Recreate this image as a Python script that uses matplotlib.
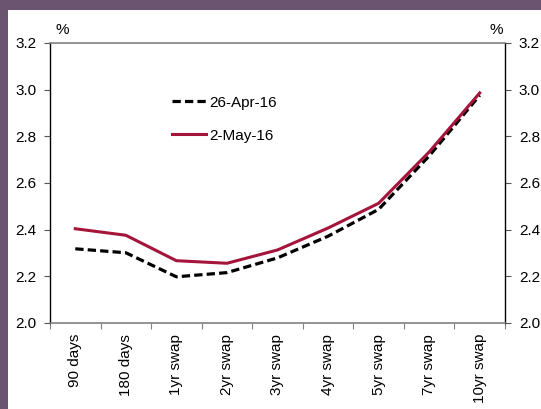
import matplotlib
matplotlib.use("Agg")
import matplotlib.pyplot as plt
from matplotlib.patches import Rectangle
import numpy as np

categories = ["90 days", "180 days", "1yr swap", "2yr swap", "3yr swap",
              "4yr swap", "5yr swap", "7yr swap", "10yr swap"]
apr26 = [2.318, 2.301, 2.198, 2.216, 2.279, 2.372, 2.487, 2.716, 2.976]
may2 = [2.404, 2.376, 2.267, 2.256, 2.313, 2.407, 2.513, 2.733, 2.986]
yticks = [2.0, 2.2, 2.4, 2.6, 2.8, 3.0, 3.2]

plt.rcParams['font.family'] = ['Liberation Sans', 'DejaVu Sans']
FS = 11

fig = plt.figure(figsize=(5.41, 4.09), dpi=100)
fig.patch.set_facecolor('white')
border = '#6B5470'
fig.patches.append(Rectangle((0, 0), 8/541, 1, transform=fig.transFigure,
                             facecolor=border, edgecolor='none', zorder=-5))
fig.patches.append(Rectangle((0, 1 - 10/409), 1, 10/409, transform=fig.transFigure,
                             facecolor=border, edgecolor='none', zorder=-5))

ax = fig.add_axes([50/541, 86/409, 455/541, 280/409])
ax.set_zorder(2)
ax.set_facecolor('white')
x = np.arange(len(categories))
ax.plot(x, apr26, color='black', lw=2.3, linestyle=(0, (2.6, 1.3)), label='26-Apr-16')
ax.plot(x, may2, color='#A5143A', lw=2.2, label='2-May-16')

ax.set_xlim(-0.5, len(categories) - 0.5)
ax.set_ylim(2.0, 3.2)
ax.set_yticks(yticks)
ax.set_yticklabels([f"{v:.1f}" for v in yticks], fontsize=FS)
ax.tick_params(axis='y', which='both', left=True, right=True, labelleft=True,
               labelright=True, direction='out', length=4, width=0.8,
               color='#555555', pad=6)

ax.set_xticks(x)
ax.set_xticklabels(categories, rotation=90, fontsize=FS)
ax.set_xticks(np.arange(-0.5, len(categories), 1.0), minor=True)
ax.tick_params(axis='x', which='major', length=0, pad=8)
ax.tick_params(axis='x', which='minor', length=4, width=0.8, color='#808080', direction='out')

for s in ['left', 'right']:
    ax.spines[s].set_color('black')
    ax.spines[s].set_linewidth(1.0)
for s in ['top', 'bottom']:
    ax.spines[s].set_color('#808080')
    ax.spines[s].set_linewidth(1.2)

ax.text(0.012, 1.02, '%', transform=ax.transAxes, fontsize=FS, ha='left', va='bottom')
ax.text(0.995, 1.02, '%', transform=ax.transAxes, fontsize=FS, ha='right', va='bottom')

leg = ax.legend(loc='upper left', bbox_to_anchor=(0.269, 0.812), frameon=False,
                fontsize=FS, handlelength=2.2, handletextpad=0.2, labelspacing=1.25,
                borderpad=0, borderaxespad=0)

fig.savefig('out.png', dpi=100, facecolor=fig.get_facecolor())
